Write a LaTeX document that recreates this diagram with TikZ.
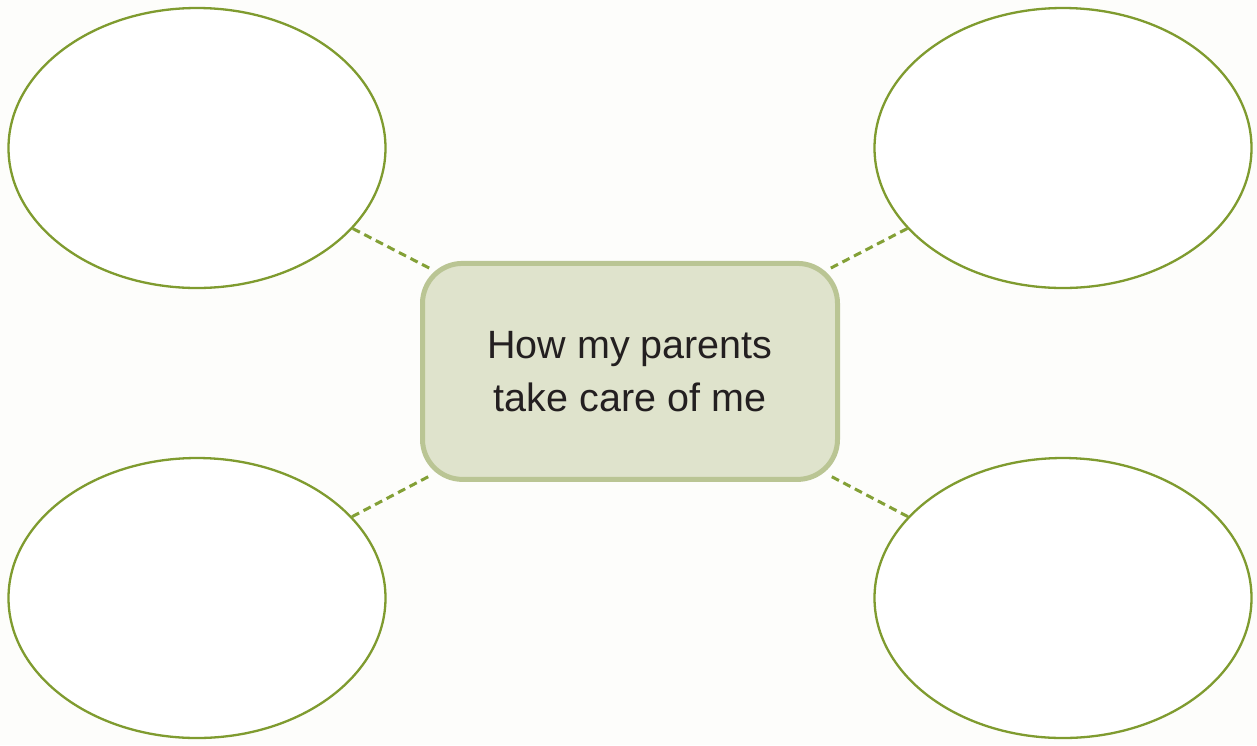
\documentclass[tikz,border=0pt]{standalone}
\usepackage{fontspec}
\setmainfont{Liberation Sans}
\usetikzlibrary{shapes.geometric}
\definecolor{bgc}{HTML}{FDFDFB}
\definecolor{olive}{HTML}{7F9B2F}
\definecolor{dashc}{HTML}{83A036}
\definecolor{boxfill}{HTML}{DFE3CC}
\definecolor{boxline}{HTML}{BAC594}
\definecolor{txt}{HTML}{231F20}
\tikzset{
  bubble/.style={ellipse, draw=olive, fill=white, line width=2.3pt, minimum width=377pt, minimum height=280pt, inner sep=0pt},
  centerbox/.style={rectangle, rounded corners=40pt, draw=boxline, fill=boxfill, line width=5pt, minimum width=415pt, minimum height=216pt, align=center, text=txt, font=\fontsize{39.5pt}{52.7pt}\selectfont},
  link/.style={draw=dashc, line width=3pt, dash pattern=on 8pt off 5pt, shorten >=-13pt}
}
\begin{document}
\begin{tikzpicture}[x=1pt,y=-1pt]
\fill[bgc] (0,0) rectangle (1257,745);
\useasboundingbox (0,0) rectangle (1257,745);
\node[bubble] (tl) at (197,148) {};
\node[bubble] (tr) at (1063,148) {};
\node[bubble] (bl) at (197,598) {};
\node[bubble] (br) at (1063,598) {};
\node[centerbox] (c) at (630,371.4) {How my parents\\take care of me};
\draw[link] (tl) -- (c);
\draw[link] (tr) -- (c);
\draw[link] (bl) -- (c);
\draw[link] (br) -- (c);
\end{tikzpicture}
\end{document}
